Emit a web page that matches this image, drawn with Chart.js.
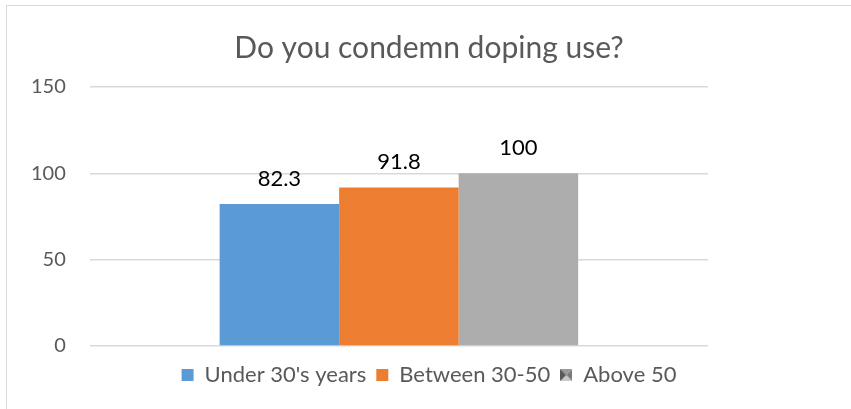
<!DOCTYPE html>
<html>
<head>
<meta charset="utf-8">
<script src="https://cdn.jsdelivr.net/npm/chart.js@4.4.1/dist/chart.umd.min.js"></script>
<style>
  html, body { margin: 0; padding: 0; background: #fff; }
  #wrap { position: relative; width: 851px; height: 409px; overflow: hidden; }
  #frame {
    position: absolute; left: 6px; top: 5px; width: 900px; height: 460px;
    border: 1.5px solid #d9d9d9; box-sizing: border-box;
  }
  #chart { position: absolute; left: 0; top: 0; }
</style>
</head>
<body>
<div id="wrap">
  <div id="frame"></div>
  <canvas id="chart" width="851" height="409"></canvas>
</div>
<script>
const categories = [""];
const seriesNames = ["Under 30's years", "Between 30-50", "Above 50"];
const seriesValues = [[82.3], [91.8], [100]];
const seriesColors = ["#5b9bd5", "#ed7d31", "#adadad"];
const yTicks = [0, 50, 100, 150];

const FONT = "Lato, Calibri, sans-serif";

// the grey legend marker in the original has a bevelled look
function bevelMarker() {
  const c = document.createElement("canvas");
  c.width = 12; c.height = 12;
  const g = c.getContext("2d");
  const tri = (pts, col) => {
    g.fillStyle = col;
    g.beginPath();
    g.moveTo(pts[0], pts[1]);
    for (let i = 2; i < pts.length; i += 2) g.lineTo(pts[i], pts[i + 1]);
    g.closePath();
    g.fill();
  };
  tri([0, 0, 12, 0, 6, 6], "#9a9a9a");
  tri([0, 12, 12, 12, 6, 6], "#c8c8c8");
  tri([0, 0, 0, 12, 6, 6], "#5a5a5a");
  tri([12, 0, 12, 12, 6, 6], "#7a7a7a");
  return c;
}

const valueLabels = {
  id: "valueLabels",
  afterDatasetsDraw(chart) {
    const ctx = chart.ctx;
    ctx.save();
    ctx.font = "22px " + FONT;
    ctx.fillStyle = "#000";
    ctx.textAlign = "center";
    ctx.textBaseline = "alphabetic";
    chart.data.datasets.forEach((ds, i) => {
      chart.getDatasetMeta(i).data.forEach((bar, j) => {
        ctx.fillText(String(ds.data[j]), bar.x, bar.y - 18);
      });
    });
    ctx.restore();
  },
};

new Chart(document.getElementById("chart"), {
  type: "bar",
  data: {
    labels: categories,
    datasets: seriesNames.map((name, i) => ({
      label: name,
      data: seriesValues[i],
      backgroundColor: seriesColors[i],
      borderWidth: 0,
      categoryPercentage: 0.58,
      barPercentage: 1,
      pointStyle: i === 2 ? bevelMarker() : "rect",
    })),
  },
  options: {
    responsive: false,
    animation: false,
    layout: { padding: { left: 7, right: 0, top: 10, bottom: 13 } },
    plugins: {
      title: {
        display: true,
        text: "Do you condemn doping use?",
        color: "#595959",
        font: { family: FONT, size: 30, weight: "normal" },
        padding: { top: 20, bottom: 21 },
      },
      legend: {
        position: "bottom",
        labels: {
          color: "#595959",
          font: { family: FONT, size: 22 },
          usePointStyle: true,
          pointStyleWidth: 12,
          boxHeight: 12,
          padding: 10,
        },
      },
      tooltip: { enabled: false },
    },
    scales: {
      x: {
        grid: { display: false },
        border: { display: false },
        ticks: { display: false },
      },
      y: {
        min: 0,
        max: 150,
        afterBuildTicks: (axis) => { axis.ticks = yTicks.map((v) => ({ value: v })); },
        grid: { color: "#d9d9d9", lineWidth: 1.5, drawTicks: false },
        border: { display: false },
        ticks: { color: "#595959", font: { family: FONT, size: 20 }, padding: 24 },
      },
      // empty right axis keeps the blank space right of the plot
      yRight: {
        position: "right",
        grid: { display: false },
        border: { display: false },
        ticks: { display: false },
        afterFit: (axis) => { axis.width = 143; },
      },
    },
  },
  plugins: [valueLabels],
});
</script>
</body>
</html>
